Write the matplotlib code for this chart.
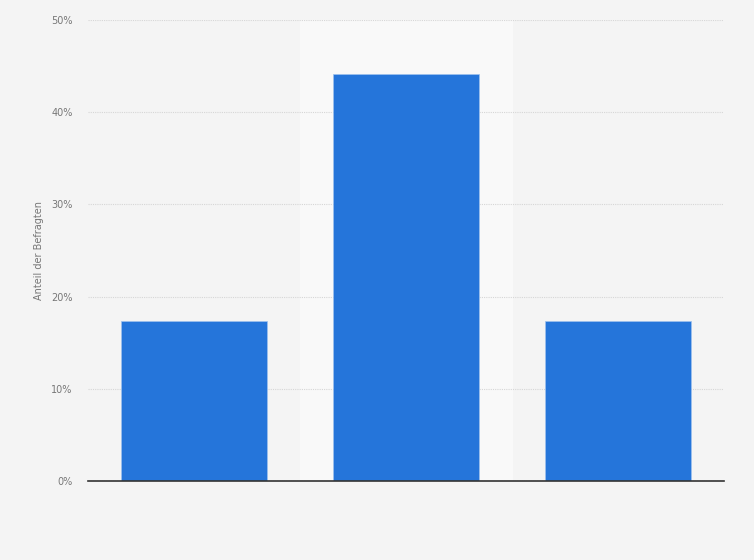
import matplotlib.pyplot as plt
from matplotlib.ticker import FuncFormatter

# values (share of respondents, %)
categories = ["", "", ""]
shares = [17.35, 44.1, 17.35]
y_ticks = [0, 10, 20, 30, 40, 50]

bg = "#f4f4f4"
bar_color = "#2575da"

fig = plt.figure(figsize=(7.54, 5.6), dpi=100, facecolor=bg)
ax = fig.add_axes([88 / 754, 79 / 560, 636 / 754, 461 / 560])
ax.set_facecolor(bg)

x = list(range(len(categories)))
# lighter band behind the middle category
ax.axvspan(0.5, 1.5, color="#f9f9f9", zorder=0)
ax.bar(x, shares, width=0.69, color=bar_color, edgecolor="#9fc2ee", linewidth=0.5, zorder=3)

ax.set_xlim(-0.5, len(categories) - 0.5)
ax.set_ylim(0, 50)
ax.set_yticks(y_ticks)
ax.yaxis.set_major_formatter(FuncFormatter(lambda v, p: f"{v:.0f}%"))
ax.set_xticks(x)
ax.set_xticklabels(categories)

ax.grid(axis="y", color="#d6d6d6", linestyle=(0, (1, 1)), linewidth=0.8, zorder=1)
for s in ["top", "right", "left"]:
    ax.spines[s].set_visible(False)
ax.spines["bottom"].set_color("#333333")
ax.spines["bottom"].set_linewidth(1.2)
ax.spines["bottom"].set_zorder(4)
ax.tick_params(axis="y", length=0, labelsize=7, colors="#777777", pad=11)
ax.tick_params(axis="x", length=0, pad=4)

ax.set_ylabel("Anteil der Befragten", fontsize=7, color="#777777", labelpad=5)

plt.savefig("out.png", dpi=100, facecolor=bg)
